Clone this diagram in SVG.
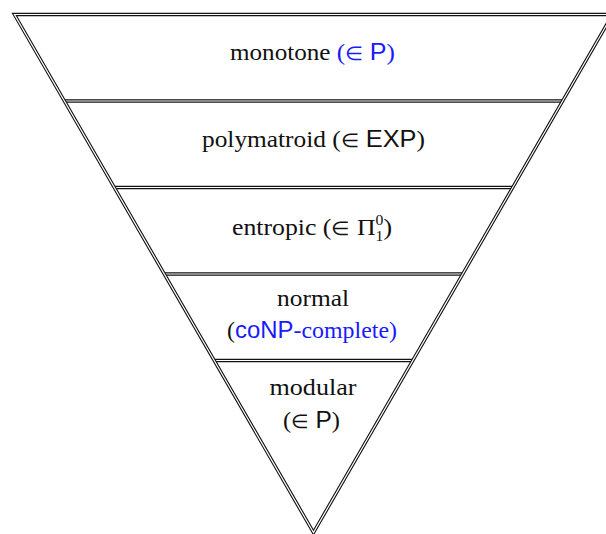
<svg xmlns="http://www.w3.org/2000/svg" width="606" height="534" viewBox="0 0 606 534">
<style>
.outer{fill:none;stroke:#111;stroke-width:3.4;stroke-linejoin:miter;stroke-miterlimit:6}
.inner{fill:none;stroke:#fff;stroke-width:1.2;stroke-linejoin:miter;stroke-miterlimit:6}
.t{font-family:"Liberation Serif","Times New Roman",serif;font-size:23px;fill:#111;text-anchor:middle}
.sf{font-family:"Liberation Sans",Arial,sans-serif}
.b{fill:#1a1aff}
.s{font-size:14px}
.e{font-family:"DejaVu Sans",sans-serif;font-size:19px;font-weight:300}
</style>
<rect width="606" height="534" fill="#fff"/>
<defs>
<path id="div" d="M64.4,101H562.6M114.3,187.5H512.7M164.3,274H462.7M214.2,360.5H412.8"/>
<path id="tri" d="M14.43,14.5H612.57L313.5,532.5Z"/>
</defs>
<g id="frame">
<use href="#div" class="outer"/>
<use href="#div" class="inner"/>
<use href="#tri" class="outer"/>
<use href="#tri" class="inner"/>
</g>
<g id="monotone">
<text class="t" x="312.5" y="60" textLength="165" lengthAdjust="spacingAndGlyphs">monotone <tspan class="b">(<tspan class="e">∈</tspan> <tspan class="sf">P</tspan>)</tspan></text>
</g>
<g id="polymatroid">
<text class="t" x="313.5" y="147" textLength="223" lengthAdjust="spacingAndGlyphs">polymatroid (<tspan class="e">∈</tspan> <tspan class="sf">EXP</tspan>)</text>
</g>
<g id="entropic">
<text class="t" x="312" y="235" textLength="160" lengthAdjust="spacingAndGlyphs">entropic (<tspan class="e">∈</tspan> Π<tspan class="s" dy="-10">0</tspan><tspan class="s" dx="-7" dy="16">1</tspan><tspan dy="-6">)</tspan></text>
</g>
<g id="normal">
<text class="t" x="313" y="306" textLength="72" lengthAdjust="spacingAndGlyphs">normal</text>
<text class="t" x="312" y="338" textLength="170" lengthAdjust="spacingAndGlyphs">(<tspan class="b"><tspan class="sf">coNP</tspan>-complete)</tspan></text>
</g>
<g id="modular">
<text class="t" x="313" y="395" textLength="87" lengthAdjust="spacingAndGlyphs">modular</text>
<text class="t" x="311.5" y="428" textLength="57" lengthAdjust="spacingAndGlyphs">(<tspan class="e">∈</tspan> <tspan class="sf">P</tspan>)</text>
</g>
</svg>
